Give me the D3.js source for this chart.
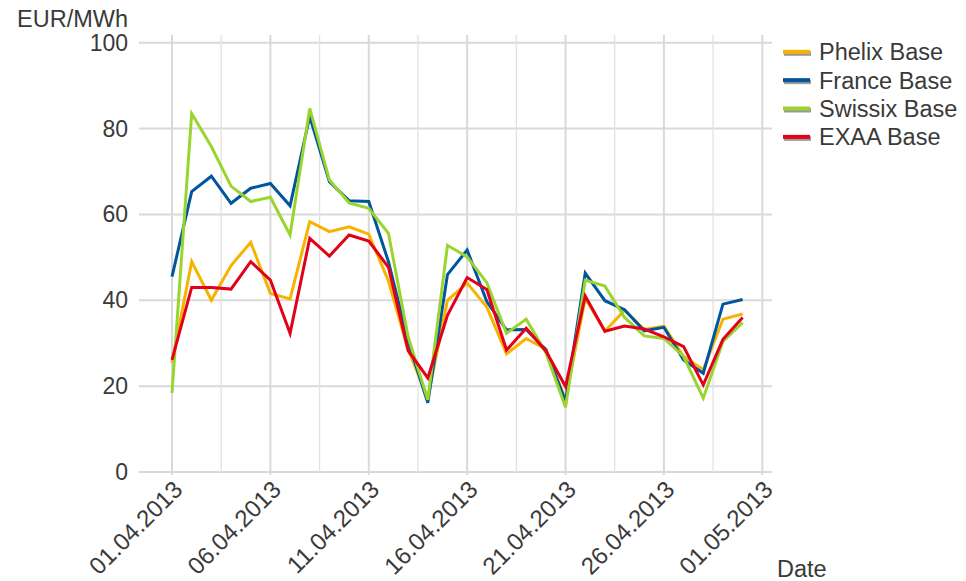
<!DOCTYPE html>
<html>
<head>
<meta charset="utf-8">
<script src="https://cdn.jsdelivr.net/npm/d3@7"></script>
<style>
  body { margin: 0; background: #fff; }
  text { font-family: "Liberation Sans", Arial, sans-serif; fill: #3a3a3a; }
</style>
</head>
<body>
<div id="chart"></div>
<script>
// daily base prices, April 2013
var dates = ["01.04.2013","02.04.2013","03.04.2013","04.04.2013","05.04.2013","06.04.2013",
  "07.04.2013","08.04.2013","09.04.2013","10.04.2013","11.04.2013","12.04.2013","13.04.2013",
  "14.04.2013","15.04.2013","16.04.2013","17.04.2013","18.04.2013","19.04.2013","20.04.2013",
  "21.04.2013","22.04.2013","23.04.2013","24.04.2013","25.04.2013","26.04.2013","27.04.2013",
  "28.04.2013","29.04.2013","30.04.2013"];

var phelix = [25.4, 49.0, 40.0, 48.1, 53.5, 41.6, 40.3, 58.3, 56.0, 57.1, 55.4, 44.5, 28.5, 17.3, 40.0,
  44.0, 38.4, 27.5, 31.1, 28.6, 16.8, 40.5, 32.8, 37.7, 33.2, 34.0, 26.9, 23.8, 35.6, 36.8];
var france = [45.5, 65.3, 68.9, 62.6, 66.1, 67.2, 62.0, 82.8, 67.6, 63.2, 63.0, 49.0, 30.5, 16.1, 46.0,
  51.7, 39.7, 33.1, 33.2, 28.5, 16.4, 46.3, 39.9, 37.8, 32.9, 33.7, 26.1, 23.0, 39.1, 40.2];
var swissix = [18.4, 83.5, 75.8, 66.6, 63.0, 64.0, 55.2, 84.7, 68.0, 62.7, 61.4, 55.6, 31.5, 16.8, 52.8,
  50.1, 44.1, 32.3, 35.6, 27.8, 15.1, 44.7, 43.3, 36.0, 31.7, 31.1, 26.9, 17.2, 30.4, 34.8];
var exaa = [26.1, 43.0, 43.0, 42.6, 49.0, 44.7, 32.3, 54.4, 50.3, 55.2, 53.8, 47.7, 28.3, 21.9, 36.5,
  45.3, 42.5, 28.4, 33.5, 28.2, 19.9, 41.0, 32.8, 34.0, 33.3, 31.5, 29.2, 20.3, 30.9, 36.0];

var seriesNames = ["Phelix Base", "France Base", "Swissix Base", "EXAA Base"];
var seriesColors = ["#f6b300", "#00559f", "#99d42f", "#e2001a"];
var yTicks = [0, 20, 40, 60, 80, 100];
var xTickLabels = ["01.04.2013","06.04.2013","11.04.2013","16.04.2013","21.04.2013","26.04.2013","01.05.2013"];

var svgWidth = 966;
var svgHeight = 581;

var parseDate = d3.timeParse("%d.%m.%Y");
var formatDate = d3.timeFormat("%d.%m.%Y");

var svg = d3.select("#chart")
  .append("svg")
  .attr("width", svgWidth)
  .attr("height", svgHeight);

var gridLeft = 139, gridRight = 772, gridTop = 35;

var xScale = d3.scaleTime()
  .domain([parseDate("01.04.2013"), parseDate("01.05.2013")])
  .range([172, 762.3]);

var yScale = d3.scaleLinear()
  .domain([0, 100])
  .range([472, 42.7]);

var majorTicks = xTickLabels.map(parseDate);
// minor grid lines halfway between the labelled dates
var minorTicks = d3.pairs(majorTicks).map(p => new Date((p[0].getTime() + p[1].getTime()) / 2));

// horizontal grid
svg.append("g")
  .selectAll("line")
  .data(yTicks)
  .enter()
  .append("line")
  .attr("x1", gridLeft)
  .attr("x2", gridRight)
  .attr("y1", d => yScale(d))
  .attr("y2", d => yScale(d))
  .attr("stroke", "#d9d9d9")
  .attr("stroke-width", 2);

// vertical grid
svg.append("g")
  .selectAll("line")
  .data(minorTicks)
  .enter()
  .append("line")
  .attr("x1", d => xScale(d))
  .attr("x2", d => xScale(d))
  .attr("y1", gridTop)
  .attr("y2", yScale(0))
  .attr("stroke", "#e2e2e2")
  .attr("stroke-width", 1.3);

svg.append("g")
  .selectAll("line")
  .data(majorTicks)
  .enter()
  .append("line")
  .attr("x1", d => xScale(d))
  .attr("x2", d => xScale(d))
  .attr("y1", gridTop)
  .attr("y2", yScale(0) + 3)
  .attr("stroke", "#d9d9d9")
  .attr("stroke-width", 2);

// y axis labels
svg.append("g")
  .selectAll("text")
  .data(yTicks)
  .enter()
  .append("text")
  .attr("x", 128)
  .attr("y", d => yScale(d) + 8)
  .attr("text-anchor", "end")
  .attr("font-size", "23px")
  .text(d => d);

svg.append("text")
  .attr("x", 128)
  .attr("y", 27)
  .attr("text-anchor", "end")
  .attr("font-size", "23.5px")
  .text("EUR/MWh");

// x axis labels
svg.append("g")
  .selectAll("text")
  .data(majorTicks)
  .enter()
  .append("text")
  .attr("text-anchor", "end")
  .attr("font-size", "24px")
  .attr("transform", d => `translate(${xScale(d) + 12}, 491) rotate(-45)`)
  .text(d => formatDate(d));

svg.append("text")
  .attr("x", 777)
  .attr("y", 577)
  .attr("font-size", "23.5px")
  .text("Date");

// lines
var allSeries = [phelix, france, swissix, exaa];
var line = d3.line()
  .x((d, i) => xScale(parseDate(dates[i])))
  .y(d => yScale(d));

svg.append("g")
  .selectAll("path")
  .data(allSeries)
  .enter()
  .append("path")
  .attr("d", d => line(d))
  .attr("fill", "none")
  .attr("stroke", (d, i) => seriesColors[i])
  .attr("stroke-width", 3)
  .attr("stroke-linejoin", "miter");

// legend
var legend = svg.append("g")
  .selectAll("g")
  .data(seriesNames)
  .enter()
  .append("g")
  .attr("transform", (d, i) => `translate(783, ${52.3 + i * 28.35})`);

legend.append("rect")
  .attr("x", 1)
  .attr("y", -1)
  .attr("width", 27)
  .attr("height", 4.5)
  .attr("fill", "#9a9a9a");

legend.append("rect")
  .attr("x", 0)
  .attr("y", -2.5)
  .attr("width", 27)
  .attr("height", 4)
  .attr("fill", (d, i) => seriesColors[i]);

legend.append("text")
  .attr("x", 36)
  .attr("y", 8)
  .attr("font-size", "23.5px")
  .text(d => d);
</script>
</body>
</html>
